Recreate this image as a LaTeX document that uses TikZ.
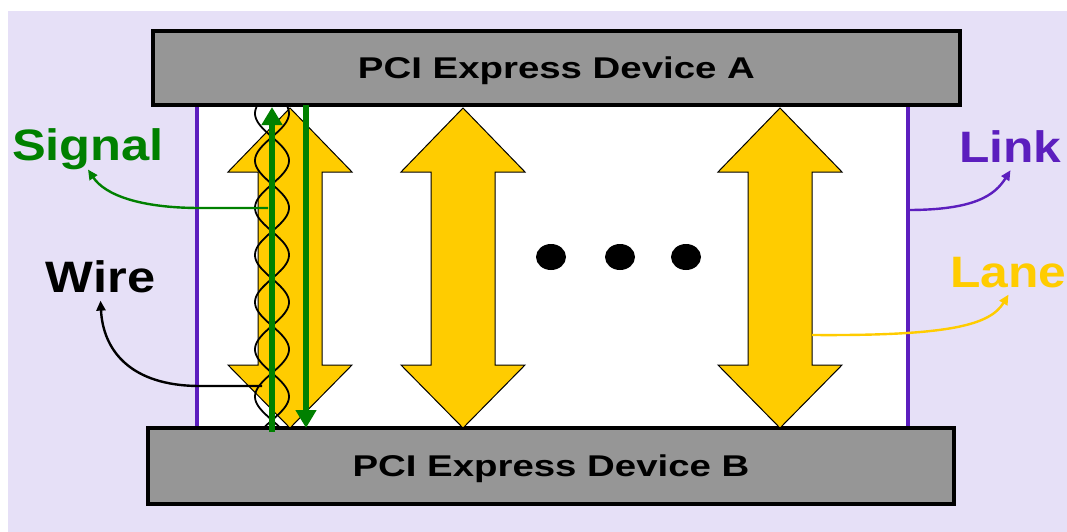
\documentclass[tikz,border=0pt]{standalone}
\usepackage{fontspec}
\setmainfont{Liberation Sans}
\usetikzlibrary{arrows.meta}
\definecolor{bgLav}{RGB}{230,224,247}
\definecolor{devGray}{RGB}{150,150,150}
\definecolor{laneYel}{RGB}{255,204,0}
\definecolor{sigGreen}{RGB}{0,128,0}
\definecolor{linkPur}{RGB}{92,30,190}
\tikzset{
  device/.style={draw=black,line width=3.5pt,fill=devGray,inner sep=0pt,
    text height=21.6pt,text depth=0pt,font=\bfseries\fontsize{30}{34}\selectfont},
  notetext/.style={anchor=base,inner sep=0pt,font=\bfseries\fontsize{44}{50}\selectfont},
  pointer/.style={line width=2.4pt,-{Triangle[length=10pt,width=9pt]}},
  lanebody/.style={fill=laneYel,draw=black,line width=1pt,line join=miter},
  wirestrand/.style={black,line width=1.8pt},
  sigline/.style={sigGreen,line width=6pt,-{Triangle[length=18pt,width=20pt]}}
}
\begin{document}
\begin{tikzpicture}[x=1pt,y=-1pt]
\useasboundingbox (0,0) rectangle (1067,532);
\fill[bgLav] (8,11) rectangle (1067,532);
\fill[white] (197,105) rectangle (908,428);
% link borders
\draw[linkPur,line width=4pt] (197,105) -- (197,428) (908,105) -- (908,428);
\node[device,minimum width=807pt,minimum height=74pt] (devA) at (556.5,68)
  {\scalebox{1.28}[1]{PCI Express Device A}};
\node[device,minimum width=806pt,minimum height=76pt] (devB) at (551,466)
  {\scalebox{1.28}[1]{PCI Express Device B}};
% lanes
\foreach \cx in {290,463,780}
  \filldraw[lanebody] (\cx,108) -- (\cx+62,172) -- (\cx+32,172) -- (\cx+32,365)
    -- (\cx+62,365) -- (\cx,428) -- (\cx-62,365) -- (\cx-32,365)
    -- (\cx-32,172) -- (\cx-62,172) -- cycle;
\foreach \dx in {551,620,686}
  \fill (\dx,257) ellipse [x radius=15, y radius=13];
% twisted pair
\foreach \sg in {1,-1}
  \draw[wirestrand] plot[domain=107:428,samples=160,variable=\t]
    ({272+\sg*17*sin((\t-137)*3.8136)},\t);
\draw[sigline] (272,432) -- (272,107);
\draw[sigline] (306,105) -- (306,428);
% labels
\node[notetext,text=sigGreen] (signal) at (88,160) {\scalebox{1.15}[1]{Signal}};
\node[notetext,text=black] (wire) at (100.5,292) {\scalebox{1.15}[1]{Wire}};
\node[notetext,text=linkPur] (link) at (1010.5,162) {\scalebox{1.13}[1]{Link}};
\node[notetext,text=laneYel] (lane) at (1008.5,287) {\scalebox{1.13}[1]{Lane}};
\coordinate (sigp) at (268,208);
\coordinate (wirep) at (262,386);
\coordinate (linkp) at (908,210);
\coordinate (lanep) at (812,335);
\draw[pointer,sigGreen] (sigp) -- (200,208) .. controls (140,208) and (105,195) .. (signal.south);
\draw[pointer,black] (wirep) -- (200,386) .. controls (130,386) and (103,350) .. ([yshift=-8pt]wire.south);
\draw[pointer,linkPur] (linkp) .. controls (975,210) and (995,195) .. ([yshift=-8pt]link.south);
\draw[pointer,laneYel] (lanep) .. controls (950,336) and (990,325) .. ([yshift=-7pt]lane.south);
\end{tikzpicture}
\end{document}
